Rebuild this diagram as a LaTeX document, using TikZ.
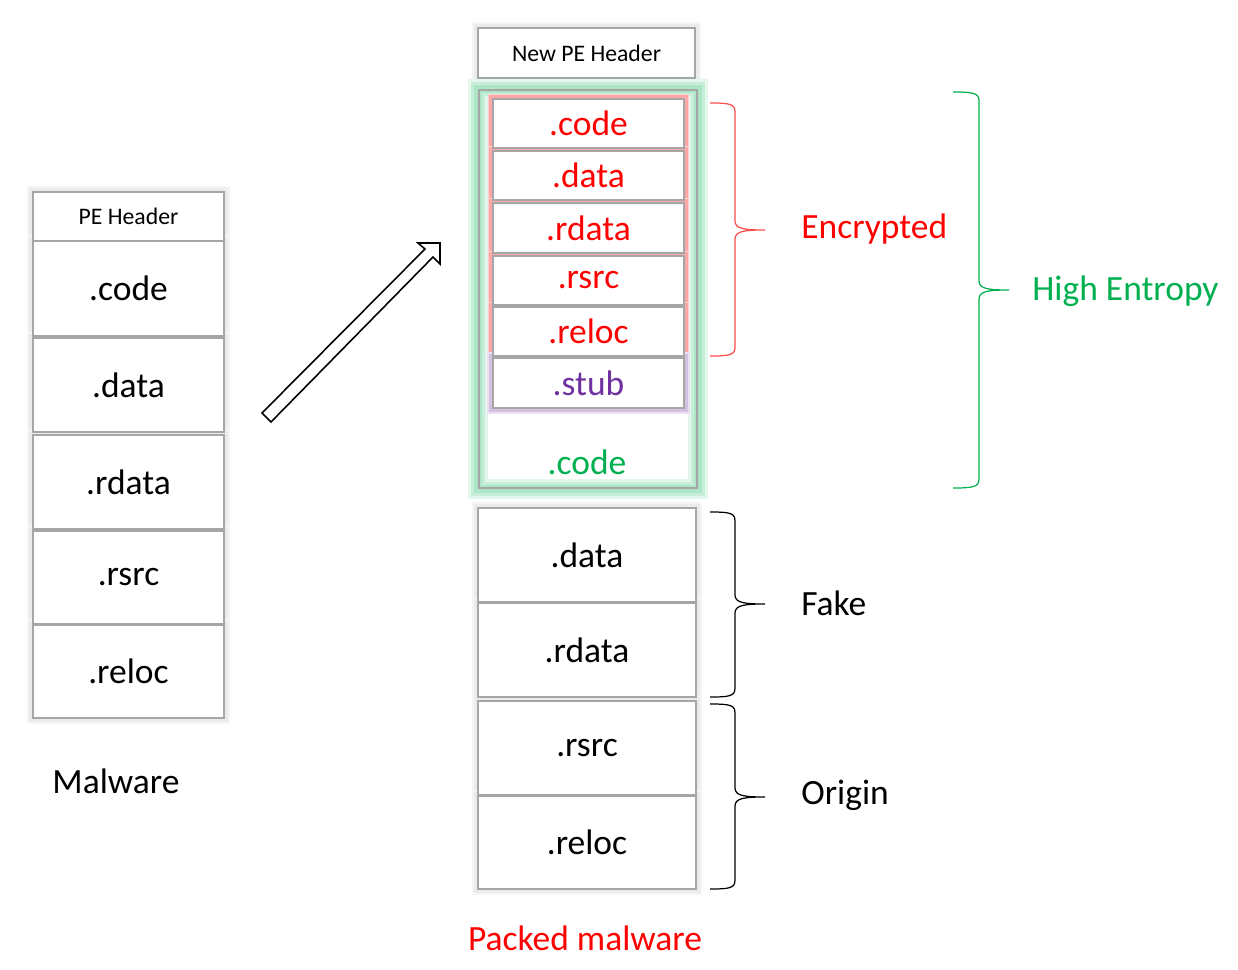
\documentclass[tikz,border=0pt]{standalone}
\usepackage{fontspec}
\setmainfont{Carlito}
\usetikzlibrary{fit,backgrounds}
\definecolor{pgreen}{HTML}{00B050}
\definecolor{ppurple}{HTML}{7030A0}
\definecolor{pred}{HTML}{FF0000}
\definecolor{bgray}{HTML}{A6A6A6}
\begin{document}
\begin{tikzpicture}[x=0.02cm,y=-0.02cm,
  sec/.style={draw=bgray, line width=1.1pt, fill=white, inner sep=0pt},
  big/.style={font=\fontsize{20.2}{24}\selectfont, inner sep=0pt},
  small/.style={font=\fontsize{13.5}{16}\selectfont, inner sep=0pt},
  lbl/.style={font=\fontsize{20.2}{24}\selectfont, inner sep=0pt},
  bracepath/.style={line width=0.7pt}
]
\begin{scope}[on background layer]
\fill[white] (0,0) rectangle (1238,970);
\end{scope}
\useasboundingbox (0,0) rectangle (1238,970);

% ---- left column (original malware)
\node[sec, fit={(33,192) (224,241)}, label={[small]center:PE Header}] (lhdr) {};
\node[sec, fit={(33,241) (224,336)}, label={[big]center:.code}] (lcode) {};
\node[sec, fit={(33,338) (224,432)}, label={[big]center:.data}] (ldata) {};
\node[sec, fit={(33,435) (224,529)}, label={[big]center:.rdata}] (lrdata) {};
\node[sec, fit={(33,531) (224,624)}, label={[big]center:.rsrc}] (lrsrc) {};
\node[sec, fit={(33,625) (224,718)}, label={[big]center:.reloc}] (lreloc) {};
\node[lbl] (malware) at (116,781) {Malware};

% ---- right column (packed malware)
\node[sec, fit={(478,28) (695,78)}, label={[small]center:New PE Header}] (rhdr) {};
\node[draw=bgray, line width=1.1pt, inner sep=0pt, fit={(479,90) (697,488)}] (outer) {};
\node[sec, fit={(493,99) (684,148)}, label={[big,text=pred]center:.code}] (ecode) {};
\node[sec, fit={(493,151) (684,200)}, label={[big,text=pred]center:.data}] (edata) {};
\node[sec, fit={(493,203) (684,253)}, label={[big,text=pred]center:.rdata}] (erdata) {};
\node[sec, fit={(493,256) (684,305)}, label={[big,text=pred]center:.rsrc}] (ersrc) {};
\node[sec, fit={(493,307) (684,356)}, label={[big,text=pred]center:.reloc}] (ereloc) {};
\node[sec, fit={(493,358) (684,408)}, label={[big,text=ppurple]center:.stub}] (stub) {};
\node[lbl, text=pgreen] (gcode) at (587,462) {.code};

\node[sec, fit={(478,508) (696,602)}, label={[big]center:.data}] (rdata) {};
\node[sec, fit={(478,603) (696,697)}, label={[big]center:.rdata}] (rrdata) {};
\node[sec, fit={(478,701) (696,795)}, label={[big]center:.rsrc}] (rrsrc) {};
\node[sec, fit={(478,796) (696,889)}, label={[big]center:.reloc}] (rreloc) {};
\node[lbl, text=pred] (packed) at (585,938) {Packed malware};

% ---- glows and shadows (soft, layered)
\begin{scope}[on background layer]
  \foreach \n in {lhdr,lcode,ldata,lrdata,lrsrc,lreloc,rhdr,rdata,rrdata,rrsrc,rreloc}{
    \draw[black!4, line width=6pt] (\n.north west) rectangle (\n.south east);
    \draw[black!8, line width=3.5pt] (\n.north west) rectangle (\n.south east);
  }
  \draw[pgreen!10, line width=11pt] (outer.north west) rectangle (outer.south east);
  \draw[pgreen!22, line width=8pt] (outer.north west) rectangle (outer.south east);
  \draw[pgreen!32, line width=5pt] (outer.north west) rectangle (outer.south east);
  \foreach \n in {ecode,edata,erdata,ersrc,ereloc}{
    \draw[pred!18, line width=5pt] (\n.north west) rectangle (\n.south east);
    \draw[pred!35, line width=3pt] (\n.north west) rectangle (\n.south east);
  }
  \draw[ppurple!15, line width=6pt] (stub.north west) rectangle (stub.south east);
  \draw[ppurple!30, line width=3.5pt] (stub.north west) rectangle (stub.south east);
\end{scope}

% ---- block arrow
\draw[line width=0.9pt, fill=white, line join=miter]
  (262,413) -- (425,249) -- (418,243) -- (440,243) -- (440,264) -- (433,257) -- (271,422) -- cycle;

% ---- braces
\draw[bracepath, pred!70]
  (710,103) .. controls (730,103) and (735,104) .. (735,112) -- (735,221)
  .. controls (735,229) and (745,230) .. (765,230)
  .. controls (745,230) and (735,231) .. (735,239) -- (735,347)
  .. controls (735,355) and (730,356) .. (710,356);
\draw[bracepath, pgreen]
  (953,92) .. controls (973,92) and (979,93) .. (979,101) -- (979,281)
  .. controls (979,289) and (989,290) .. (1009,290)
  .. controls (989,290) and (979,291) .. (979,299) -- (979,479)
  .. controls (979,487) and (973,488) .. (953,488);
\draw[bracepath, black]
  (710,512) .. controls (730,512) and (735,513) .. (735,521) -- (735,595)
  .. controls (735,603) and (745,604) .. (765,604)
  .. controls (745,604) and (735,605) .. (735,613) -- (735,688)
  .. controls (735,696) and (730,697) .. (710,697);
\draw[bracepath, black]
  (710,704) .. controls (730,704) and (735,705) .. (735,713) -- (735,788)
  .. controls (735,796) and (745,797) .. (765,797)
  .. controls (745,797) and (735,798) .. (735,806) -- (735,880)
  .. controls (735,888) and (730,889) .. (710,889);

% ---- brace labels
\node[lbl, text=pred, anchor=west] (encrypted) at (801,229) {Encrypted};
\node[lbl, text=pgreen, anchor=west] (entropy) at (1032,291) {High Entropy};
\node[lbl, anchor=west] (fake) at (801,603) {Fake};
\node[lbl, anchor=west] (origin) at (801,795) {Origin};
\end{tikzpicture}
\end{document}
